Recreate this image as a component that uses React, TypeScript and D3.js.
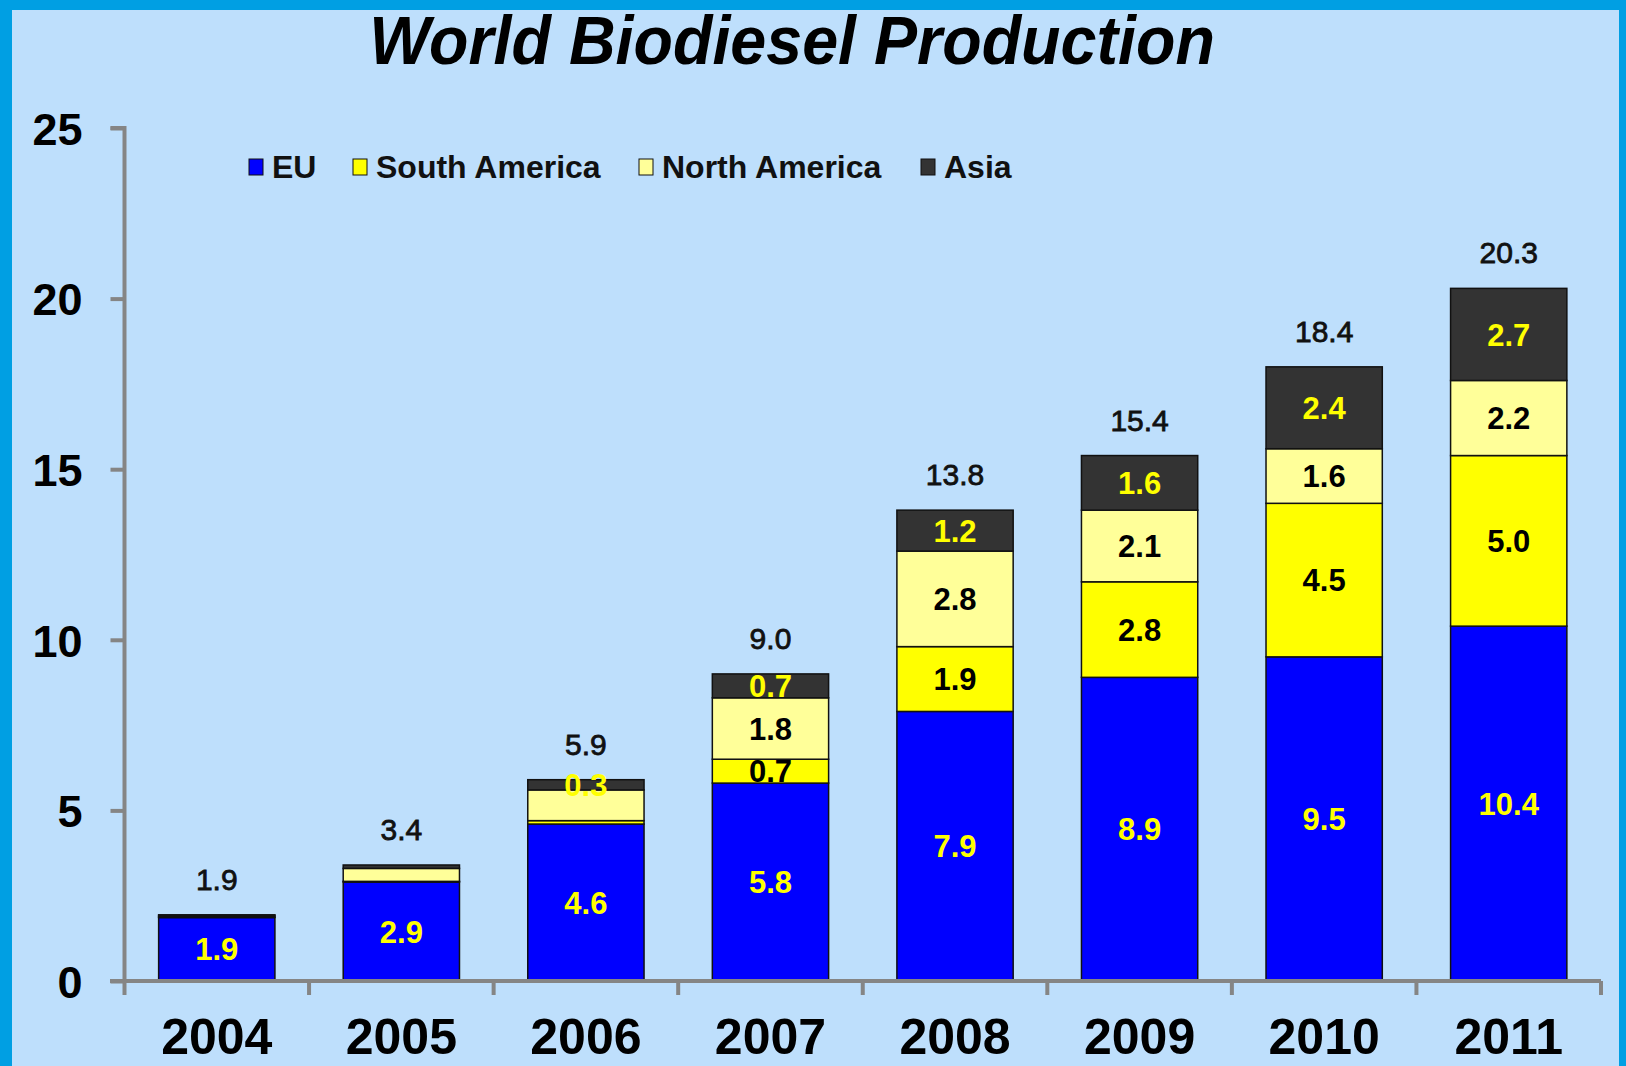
import React, { useEffect, useRef } from "react";
import * as d3 from "d3";

const years = ["2004", "2005", "2006", "2007", "2008", "2009", "2010", "2011"];
const seriesNames = ["EU", "South America", "North America", "Asia"];
const seriesColors = ["#0000FF", "#FFFF00", "#FFFF99", "#333333"];
const labelColors = ["#FFFF00", "#000000", "#000000", "#FFFF00"];

const euValues = [1.86, 2.9, 4.6, 5.8, 7.9, 8.9, 9.5, 10.4];
const southAmericaValues = [0.02, 0.02, 0.1, 0.7, 1.9, 2.8, 4.5, 5.0];
const northAmericaValues = [0.04, 0.38, 0.9, 1.8, 2.8, 2.1, 1.6, 2.2];
const asiaValues = [0.02, 0.1, 0.3, 0.7, 1.2, 1.6, 2.4, 2.7];

// labels shown inside segments (null = no label)
const euLabels = ["1.9", "2.9", "4.6", "5.8", "7.9", "8.9", "9.5", "10.4"];
const southAmericaLabels = [null, null, null, "0.7", "1.9", "2.8", "4.5", "5.0"];
const northAmericaLabels = [null, null, null, "1.8", "2.8", "2.1", "1.6", "2.2"];
const asiaLabels = [null, null, "0.3", "0.7", "1.2", "1.6", "2.4", "2.7"];

const totalLabels = ["1.9", "3.4", "5.9", "9.0", "13.8", "15.4", "18.4", "20.3"];
const yTicks = [0, 5, 10, 15, 20, 25];

const WorldBiodieselChart: React.FC = () => {
  const chartRef = useRef<SVGSVGElement>(null);

  useEffect(() => {
    if (!chartRef.current) return;
    const svg = d3.select(chartRef.current);
    svg.selectAll("*").remove();

    const width = 1626;
    const height = 1066;
    const font = "'Liberation Sans', Arial, sans-serif";

    // frame
    svg.append("rect").attr("width", width).attr("height", height).attr("fill", "#009FE3");
    svg.append("rect")
      .attr("x", 12).attr("y", 10)
      .attr("width", width - 12 - 7).attr("height", height - 10)
      .attr("fill", "#BEDFFC");

    // title (slightly condensed like the original)
    svg.append("text")
      .attr("transform", "translate(792,64) scale(0.95,1)")
      .attr("text-anchor", "middle")
      .style("font-family", font)
      .style("font-size", "68px")
      .style("font-weight", "bold")
      .style("font-style", "italic")
      .text("World Biodiesel Production");

    const x = d3.scaleBand()
      .domain(years)
      .range([124.5, 1601])
      .paddingInner(0.37)
      .paddingOuter(0.185);

    const y = d3.scaleLinear().domain([0, 25]).range([981, 128]);

    const table = years.map((yr, i) => ({
      year: yr,
      "EU": euValues[i],
      "South America": southAmericaValues[i],
      "North America": northAmericaValues[i],
      "Asia": asiaValues[i],
    }));
    const labels = [euLabels, southAmericaLabels, northAmericaLabels, asiaLabels];

    const stacked = d3.stack<any>().keys(seriesNames)(table);

    // bars
    stacked.forEach((layer, si) => {
      svg.append("g")
        .selectAll("rect")
        .data(layer)
        .enter()
        .append("rect")
        .attr("x", (d) => x(d.data.year) || 0)
        .attr("y", (d) => y(d[1]))
        .attr("width", x.bandwidth())
        .attr("height", (d) => y(d[0]) - y(d[1]))
        .attr("fill", seriesColors[si])
        .attr("stroke", "#111")
        .attr("stroke-width", 1.5);
    });

    // segment labels
    stacked.forEach((layer, si) => {
      svg.append("g")
        .selectAll("text")
        .data(layer.map((d, i) => ({ d, label: labels[si][i] })).filter((o) => o.label))
        .enter()
        .append("text")
        .attr("x", (o) => (x(o.d.data.year) || 0) + x.bandwidth() / 2)
        .attr("y", (o) => (y(o.d[0]) + y(o.d[1])) / 2)
        .attr("dy", "0.36em")
        .attr("text-anchor", "middle")
        .style("font-family", font)
        .style("font-size", "31px")
        .style("font-weight", "bold")
        .style("fill", labelColors[si])
        .text((o) => o.label as string);
    });

    // totals
    const top = stacked[stacked.length - 1];
    svg.append("g")
      .selectAll("text")
      .data(top)
      .enter()
      .append("text")
      .attr("x", (d) => (x(d.data.year) || 0) + x.bandwidth() / 2)
      .attr("y", (d) => y(d[1]) - 25)
      .attr("text-anchor", "middle")
      .style("font-family", font)
      .style("font-size", "30px")
      .style("fill", "#111")
      .style("stroke", "#111")
      .style("stroke-width", "0.8px")
      .text((d, i) => totalLabels[i]);

    // axes
    const axisColor = "#858585";
    const yAxis = svg.append("g").attr("transform", "translate(124.5,0)")
      .call(d3.axisLeft(y).tickValues(yTicks).tickSize(14).tickPadding(28));
    yAxis.select(".domain").attr("stroke", axisColor).attr("stroke-width", 4)
      .attr("d", `M-14,${y(25)}H0V${y(0)}`);
    yAxis.selectAll(".tick line").attr("stroke", axisColor).attr("stroke-width", 4);
    yAxis.selectAll(".tick text")
      .style("font-family", font)
      .style("font-size", "45px")
      .style("font-weight", "bold")
      .style("fill", "#000")
      .attr("dy", "0.36em");

    const xTickPositions = years.map((yr) => (x(yr) || 0) - x.step() * 0.185)
      .concat([1601]);
    const xAxis = svg.append("g");
    xAxis.append("path")
      .attr("d", `M110,${y(0)}H1601`)
      .attr("stroke", axisColor).attr("stroke-width", 4).attr("fill", "none");
    xAxis.selectAll("line")
      .data(xTickPositions)
      .enter()
      .append("line")
      .attr("x1", (d) => d).attr("x2", (d) => d)
      .attr("y1", y(0)).attr("y2", y(0) + 14)
      .attr("stroke", axisColor).attr("stroke-width", 4);
    xAxis.selectAll("text")
      .data(years)
      .enter()
      .append("text")
      .attr("x", (d) => (x(d) || 0) + x.bandwidth() / 2)
      .attr("y", 1054)
      .attr("text-anchor", "middle")
      .style("font-family", font)
      .style("font-size", "50px")
      .style("font-weight", "bold")
      .text((d) => d);

    // legend
    const legendX = [249, 353, 639, 921];
    const legend = svg.append("g");
    seriesNames.forEach((name, i) => {
      legend.append("rect")
        .attr("x", legendX[i]).attr("y", 159)
        .attr("width", 14).attr("height", 16)
        .attr("fill", seriesColors[i])
        .attr("stroke", "#111").attr("stroke-width", 1);
      legend.append("text")
        .attr("x", legendX[i] + 23).attr("y", 178)
        .style("font-family", font)
        .style("font-size", "32px")
        .style("font-weight", "bold")
        .style("fill", "#111")
        .text(name);
    });
  }, []);

  return (
    <svg
      ref={chartRef}
      width={1626}
      height={1066}
      style={{ position: "fixed", top: 0, left: 0, display: "block" }}
    />
  );
};

export default function App() {
  return <WorldBiodieselChart />;
}
